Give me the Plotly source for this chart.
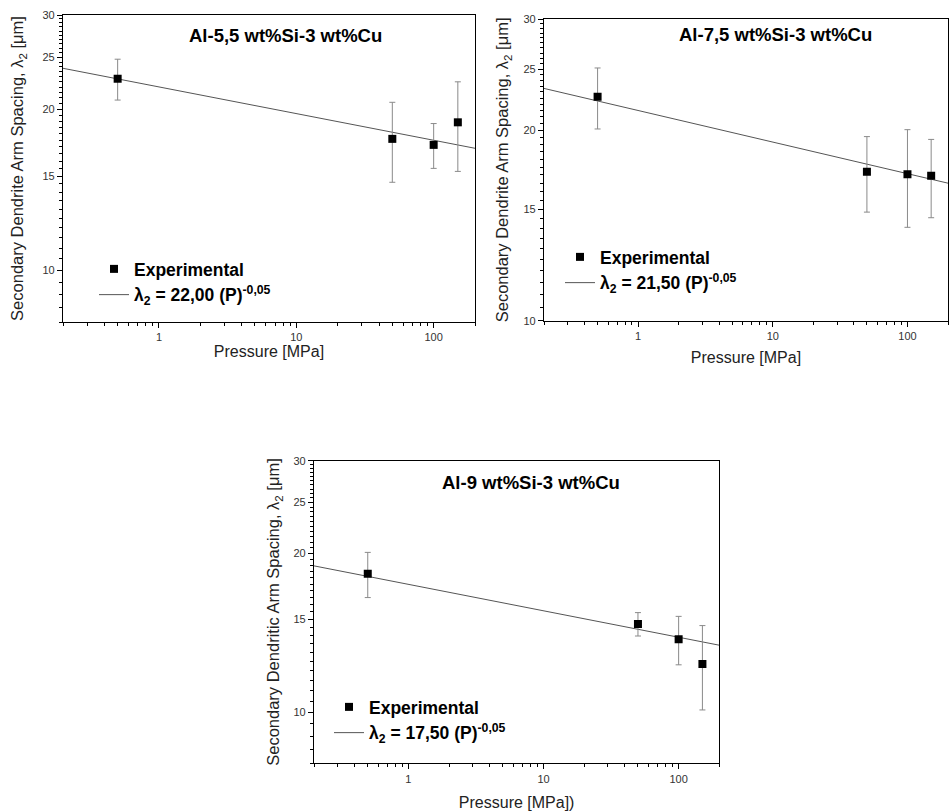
import math
import plotly.graph_objects as go

# ---------------- data ----------------
pressure = [0.5, 50, 100, 150]

titles = ["Al-5,5 wt%Si-3 wt%Cu", "Al-7,5 wt%Si-3 wt%Cu", "Al-9 wt%Si-3 wt%Cu"]

sdas_1 = [22.8, 17.6, 17.15, 18.9]
err_1 = [2.0, 3.0, 1.65, 3.6]

sdas_2 = [22.6, 17.2, 17.05, 16.95]
err_2 = [2.5, 2.35, 3.0, 2.4]

sdas_3 = [18.3, 14.7, 13.75, 12.35]
err_3 = [1.8, 0.75, 1.45, 2.25]

fit_x = [0.2, 200]
fit_1 = [23.85, 16.9]
fit_2 = [23.3, 16.5]
fit_3 = [18.95, 13.4]

fit_labels = ["λ<sub>2</sub> = 22,00 (P)<sup>-0,05</sup>",
              "λ<sub>2</sub> = 21,50 (P)<sup>-0,05</sup>",
              "λ<sub>2</sub> = 17,50 (P)<sup>-0,05</sup>"]

y_titles = ["Secondary Dendrite Arm Spacing, λ<sub>2</sub> [μm]",
            "Secondary Dendrite Arm Spacing, λ<sub>2</sub> [μm]",
            "Secondary Dendritic Arm Spacing, λ<sub>2</sub> [μm]"]
x_titles = ["Pressure [MPa]", "Pressure [MPa]", "Pressure [MPa])"]

x_major = [1, 10, 100]
x_major_text = ["1", "10", "100"]
y_major = [10, 15, 20, 25, 30]
y_major_text = ["10", "15", "20", "25", "30"]

# ---------------- layout geometry ----------------
W, H = 949, 812
FONT = "Liberation Sans, Arial, Helvetica, sans-serif"

panels = [
    dict(x=(63, 475), y=(15, 322), ymin=8, title_pos=(0.539, 0.932),
         legend=(94, 251), xstand=2, ystand=14),
    dict(x=(544, 948), y=(19, 320.7), ymin=10, title_pos=(0.572, 0.947),
         legend=(560, 239), xstand=10, ystand=10),
    dict(x=(314, 719.3), y=(460.7, 763.3), ymin=8, title_pos=(0.535, 0.927),
         legend=(329, 689), xstand=13, ystand=9),
]

x_minor = [m * 10 ** e for e in (-1, 0, 1, 2) for m in range(2, 10)
           if 0.2 <= m * 10 ** e <= 200 and m * 10 ** e not in x_major]
y_minor = [v / 2 for v in range(16, 61) if (v / 2) not in y_major]

fig = go.Figure()

series = [(sdas_1, err_1, fit_1), (sdas_2, err_2, fit_2), (sdas_3, err_3, fit_3)]

for i, ((ys, es, fy), p) in enumerate(zip(series, panels)):
    n = "" if i == 0 else str(i + 1)
    leg = "legend" if i == 0 else f"legend{i + 1}"
    fig.add_trace(go.Scatter(
        x=fit_x, y=fy, mode="lines", name=fit_labels[i],
        line=dict(color="#555555", width=1),
        xaxis=f"x{n}", yaxis=f"y{n}", legend=leg, legendrank=2,
    ))
    fig.add_trace(go.Scatter(
        x=pressure, y=ys, mode="markers", name="Experimental",
        marker=dict(symbol="square", size=8, color="black"),
        error_y=dict(type="data", array=es, visible=True,
                     color="#8a8a8a", thickness=1, width=3),
        xaxis=f"x{n}", yaxis=f"y{n}", legend=leg, legendrank=1,
    ))

    x0, x1 = p["x"]
    y0, y1 = p["y"]
    xdom = [x0 / W, x1 / W]
    ydom = [1 - y1 / H, 1 - y0 / H]
    axis_common = dict(
        showline=True, linecolor="black", linewidth=1.3, mirror=True,
        ticks="outside", ticklen=5, tickcolor="black", tickwidth=1,
        showgrid=False, zeroline=False, automargin=False,
        tickfont=dict(family=FONT, size=11, color="#333333"),
    )
    fig.update_layout(**{
        f"xaxis{n}": dict(
            type="log", domain=xdom,
            range=[math.log10(0.2), math.log10(200)],
            tickmode="array", tickvals=x_major, ticktext=x_major_text,
            minor=dict(tickmode="array", tickvals=x_minor, ticks="outside",
                       ticklen=3, tickcolor="black", showgrid=False),
            title=dict(text=x_titles[i], standoff=p["xstand"],
                       font=dict(family=FONT, size=16, color="#222222")),
            anchor=f"y{n}", **axis_common),
        f"yaxis{n}": dict(
            type="log", domain=ydom,
            range=[math.log10(p["ymin"]), math.log10(30)],
            tickmode="array", tickvals=y_major, ticktext=y_major_text,
            minor=dict(tickmode="array", tickvals=y_minor, ticks="outside",
                       ticklen=3, tickcolor="black", showgrid=False),
            title=dict(text=y_titles[i], standoff=p["ystand"],
                       font=dict(family=FONT, size=16.5, color="#222222")),
            anchor=f"x{n}", **axis_common),
        leg: dict(
            x=p["legend"][0] / W, y=1 - p["legend"][1] / H,
            xanchor="left", yanchor="top",
            bgcolor="rgba(0,0,0,0)", borderwidth=0,
            font=dict(family=FONT, size=17.5, color="black", weight=700),
            tracegroupgap=0,
        ),
    })
    fig.add_annotation(
        text=titles[i], xref=f"x{n} domain", yref=f"y{n} domain",
        x=p["title_pos"][0], y=p["title_pos"][1],
        xanchor="center", yanchor="middle", showarrow=False,
        font=dict(family=FONT, size=18.5, color="black", weight=700),
    )

fig.update_layout(
    width=W, height=H,
    margin=dict(l=0, r=0, t=0, b=0),
    paper_bgcolor="white", plot_bgcolor="white",
    showlegend=True,
)

fig.write_html(
    "out.html",
    config={"displayModeBar": False},
    post_script="document.body.style.margin='0';document.body.style.overflow='hidden';",
)
